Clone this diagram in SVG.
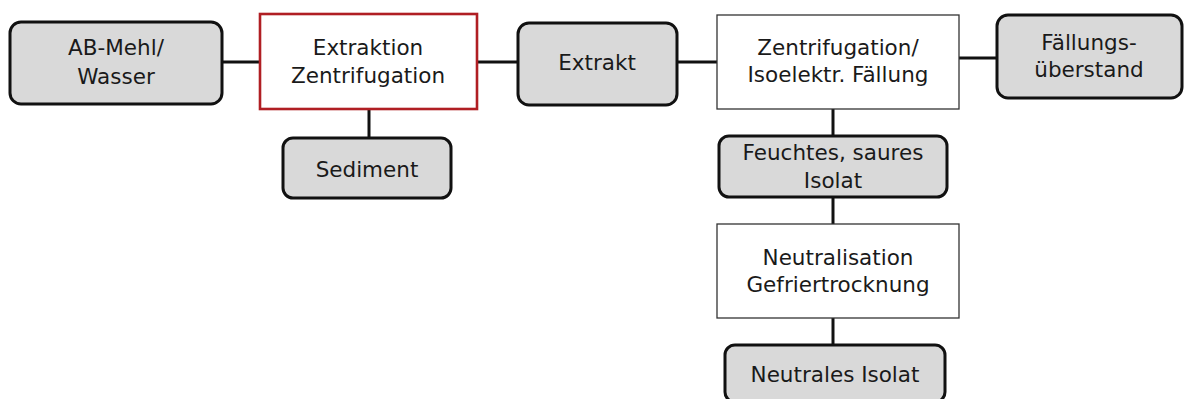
<svg xmlns="http://www.w3.org/2000/svg" width="1184" height="399" viewBox="0 0 1184 399">
<style>
.g{fill:#d9d9d9;stroke:#111;stroke-width:3}
.w{fill:#fff;stroke:#333;stroke-width:1.3}
.r{fill:#fff;stroke:#b01e23;stroke-width:2.6}
.c{stroke:#111;stroke-width:3;fill:none}
text{font-family:"DejaVu Sans","Open Sans",sans-serif;font-size:21.5px;fill:#1a1a1a;text-anchor:middle}
</style>
<rect width="1184" height="399" fill="#fff"/>
<g id="connectors">
<line class="c" x1="222" y1="62" x2="259" y2="62"/>
<line class="c" x1="477" y1="62" x2="518" y2="62"/>
<line class="c" x1="677" y1="62" x2="717" y2="62"/>
<line class="c" x1="959" y1="58" x2="997" y2="58"/>
<line class="c" x1="369" y1="109" x2="369" y2="138"/>
<line class="c" x1="833" y1="109" x2="833" y2="136"/>
<line class="c" x1="833" y1="197" x2="833" y2="224"/>
<line class="c" x1="833" y1="318" x2="833" y2="345"/>
</g>
<g id="ab-mehl"><rect class="g" x="10" y="22" width="212" height="82" rx="11"/><text x="116" y="55">AB-Mehl/</text><text x="116" y="84">Wasser</text></g>
<g id="extraktion"><rect class="r" x="260" y="14" width="217" height="95"/><text x="368" y="55">Extraktion</text><text x="368" y="83">Zentrifugation</text></g>
<g id="sediment"><rect class="g" x="283" y="138" width="168" height="60" rx="10"/><text x="367" y="177">Sediment</text></g>
<g id="extrakt"><rect class="g" x="518" y="23" width="159" height="82" rx="11"/><text x="597" y="70">Extrakt</text></g>
<g id="zentrifugation"><rect class="w" x="717" y="15" width="242" height="94"/><text x="838" y="55">Zentrifugation/</text><text x="838" y="82">Isoelektr. Fällung</text></g>
<g id="faellungsueberstand"><rect class="g" x="997" y="15" width="185" height="83" rx="11"/><text x="1089" y="50">Fällungs-</text><text x="1089" y="77">überstand</text></g>
<g id="feuchtes-isolat"><rect class="g" x="719" y="136" width="228" height="61" rx="10"/><text x="833" y="160">Feuchtes, saures</text><text x="833" y="188">Isolat</text></g>
<g id="neutralisation"><rect class="w" x="717" y="224" width="242" height="94"/><text x="838" y="265">Neutralisation</text><text x="838" y="292">Gefriertrocknung</text></g>
<g id="neutrales-isolat"><rect class="g" x="725" y="345" width="220" height="57" rx="10"/><text x="835" y="382">Neutrales Isolat</text></g>
</svg>
